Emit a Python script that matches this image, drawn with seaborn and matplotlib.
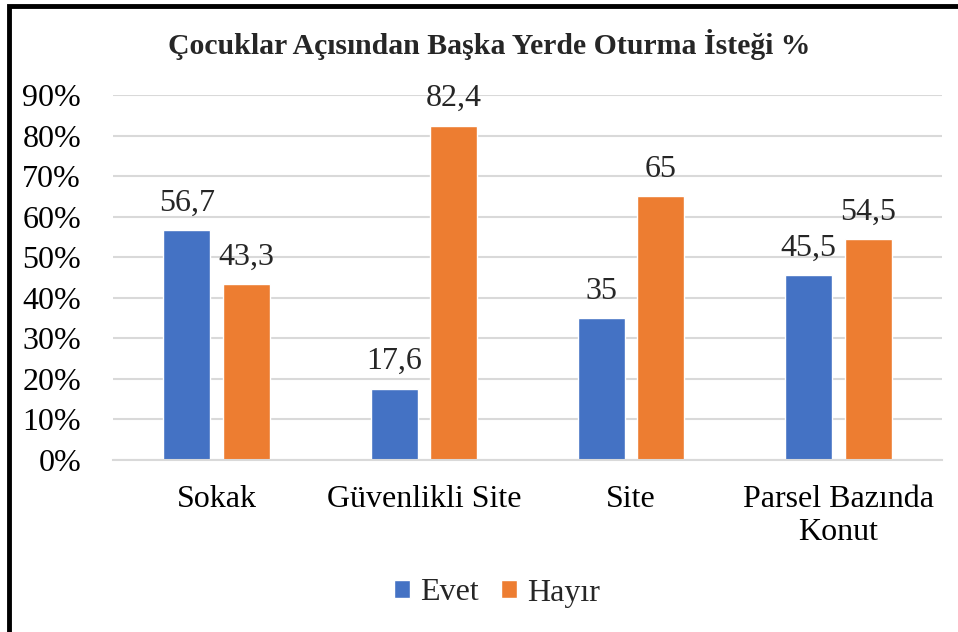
import matplotlib
matplotlib.use("Agg")
import matplotlib.pyplot as plt
import seaborn as sns
import pandas as pd
from matplotlib.patches import Rectangle

categories = ["Sokak", "Güvenlikli Site", "Site", "Parsel Bazında\nKonut"]
evet = [56.7, 17.6, 35, 45.5]
hayir = [43.3, 82.4, 65, 54.5]
series_names = ["Evet", "Hayır"]
colors = ["#4472C4", "#ED7D31"]
yticks = [0, 10, 20, 30, 40, 50, 60, 70, 80, 90]
title = "Çocuklar Açısından Başka Yerde Oturma İsteği %"

df = pd.DataFrame({
    "cat": categories * 2,
    "val": evet + hayir,
    "series": [series_names[0]] * 4 + [series_names[1]] * 4,
})

sns.set_style("white")
plt.rcParams["font.family"] = ["Liberation Serif", "DejaVu Serif"]

fig = plt.figure(figsize=(9.58, 6.32), dpi=100)
ax = fig.add_axes([113 / 958, 1 - 460 / 632, (942 - 113) / 958, (460 - 95) / 632])

sns.barplot(data=df, x="cat", y="val", hue="series", palette=colors,
            width=0.575, gap=0.21, ax=ax, legend=True, saturation=1)

ax.set_ylim(0, 90)
ax.set_xlim(-0.5, 3.5)
ax.set_yticks(yticks)
ax.set_yticklabels([f"{t}%" for t in yticks])
ax.yaxis.grid(True, color="#d9d9d9", linewidth=1.5)
ax.set_axisbelow(True)
for s in ["top", "right", "left"]:
    ax.spines[s].set_visible(False)
ax.spines["bottom"].set_color("#d9d9d9")
ax.spines["bottom"].set_linewidth(1.5)
ax.tick_params(axis="both", length=0, labelsize=23, colors="black")
ax.tick_params(axis="y", pad=23)
ax.tick_params(axis="x", pad=18)
ax.set_xlabel("")
ax.set_ylabel("")

for cont in ax.containers:
    labels = [f"{v:g}".replace(".", ",") for v in cont.datavalues]
    ax.bar_label(cont, labels=labels, padding=9, fontsize=23)

handles, labs = ax.get_legend_handles_labels()
ax.legend_.remove()
fig.legend(handles, labs, loc="center", bbox_to_anchor=(497 / 958, 1 - 593 / 632),
           ncol=2, frameon=False, fontsize=23, handlelength=0.5, handleheight=0.5,
           handletextpad=0.3, columnspacing=0.7)

fig.text(489 / 958, 1 - 45 / 632, title, ha="center", va="center",
         fontsize=21.4, fontweight="bold")

fig.patches.append(Rectangle((9 / 958, -0.1), 1.2, 1 - 6 / 632 + 0.1,
                             transform=fig.transFigure, fill=False,
                             edgecolor="black", linewidth=3.5))

fig.savefig("out.png", dpi=100)
